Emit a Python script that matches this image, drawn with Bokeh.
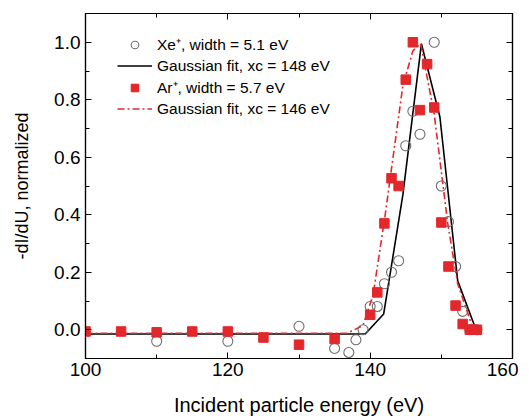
from bokeh.plotting import figure
from bokeh.models import Range1d, FixedTicker, LinearAxis, Legend, LegendItem, PrintfTickFormatter, CustomJSTickFormatter
from bokeh.embed import file_html
from bokeh.resources import INLINE

# Xe+ data (open circles)
xe_x = [110, 120, 130, 135, 137, 138, 139, 140, 141, 142, 143, 144, 145, 146, 147, 149, 150, 151, 152, 153, 154, 155]
xe_y = [-0.04, -0.04, 0.012, -0.065, -0.079, -0.035, 0.0, 0.081, 0.081, 0.16, 0.2, 0.24, 0.64, 0.76, 0.68, 1.0, 0.5, 0.376, 0.22, 0.064, 0.0, 0.0]

# Ar+ data (filled squares)
ar_x = [100, 105, 110, 115, 120, 125, 130, 135, 140, 141, 142, 143, 144, 145, 146, 147, 148, 149, 150, 151, 152, 153, 154, 154.5, 155]
ar_y = [-0.006, -0.006, -0.009, -0.006, -0.006, -0.027, -0.052, -0.032, 0.052, 0.13, 0.37, 0.527, 0.5, 0.87, 1.0, 0.764, 0.924, 0.773, 0.373, 0.22, 0.084, 0.02, 0.0, 0.0, 0.0]

# Gaussian fit, Xe+ (black solid)
fit_xe_x = [100, 139.3, 141.9, 144.6, 147.2, 149.8, 152.3, 154.8]
fit_xe_y = [-0.015, -0.015, 0.055, 0.47, 0.995, 0.74, 0.17, 0.005]

# Gaussian fit, Ar+ (red dash-dot)
fit_ar_x = [100, 136.8, 139.0, 140.4, 142.0, 144.6, 146.0, 147.1, 149.0, 150.9, 152.3, 154.5]
fit_ar_y = [-0.012, -0.012, 0.015, 0.12, 0.38, 0.85, 0.97, 0.995, 0.75, 0.37, 0.16, 0.0]

x_major = [100, 120, 140, 160]
x_minor = [110, 130, 150]
y_major = [0.0, 0.2, 0.4, 0.6, 0.8, 1.0]
y_minor = [-0.1, 0.1, 0.3, 0.5, 0.7, 0.9, 1.1]

FONT = "Liberation Sans"
RED = "#e3272b"

p = figure(frame_width=427, frame_height=345, output_backend="svg", toolbar_location=None,
           x_range=Range1d(100, 160), y_range=Range1d(-0.1, 1.1),
           min_border_left=85, min_border_right=6, min_border_top=13, min_border_bottom=58,
           x_axis_label="Incident particle energy (eV)", y_axis_label="-dI/dU, normalized")
p.background_fill_color = "white"
p.border_fill_color = "white"
p.outline_line_color = "black"
p.outline_line_width = 1.2
p.grid.visible = False

for ax in (p.xaxis[0], p.yaxis[0]):
    ax.major_tick_in = 6
    ax.major_tick_out = 0
    ax.minor_tick_in = 4
    ax.minor_tick_out = 0
    ax.axis_line_color = "black"
    ax.axis_line_width = 1.2
    ax.major_tick_line_color = "black"
    ax.minor_tick_line_color = "black"
    ax.major_label_text_font = FONT
    ax.major_label_text_font_size = "19px"
    ax.major_label_text_color = "black"
    ax.axis_label_text_font = FONT
    ax.axis_label_text_font_style = "normal"
    ax.axis_label_text_color = "black"

p.xaxis[0].axis_label_text_font_size = "20px"
p.yaxis[0].axis_label_text_font_size = "18px"
p.xaxis[0].ticker = FixedTicker(ticks=x_major, minor_ticks=x_minor)
p.yaxis[0].ticker = FixedTicker(ticks=y_major, minor_ticks=y_minor)
p.yaxis[0].formatter = PrintfTickFormatter(format="%.1f")
p.xaxis[0].major_label_standoff = 4
p.yaxis[0].major_label_standoff = 5
p.xaxis[0].axis_label_standoff = 15
p.yaxis[0].axis_label_standoff = 19

# mirrored axes without labels
blank = CustomJSTickFormatter(code="return ''")
top = LinearAxis(ticker=FixedTicker(ticks=x_major, minor_ticks=x_minor), formatter=blank)
right = LinearAxis(ticker=FixedTicker(ticks=y_major, minor_ticks=y_minor), formatter=blank)
for ax in (top, right):
    ax.major_tick_in = 6
    ax.major_tick_out = 0
    ax.minor_tick_in = 4
    ax.minor_tick_out = 0
    ax.axis_line_width = 1.2
    ax.major_label_standoff = 0
p.add_layout(top, "above")
p.add_layout(right, "right")

r_xe_fit = p.line(fit_xe_x, fit_xe_y, line_color="black", line_width=1.6)
r_ar_fit = p.line(fit_ar_x, fit_ar_y, line_color=RED, line_width=1.6, line_dash="7 3 2 3")
r_xe = p.scatter(xe_x, xe_y, marker="circle", size=10, fill_color=None, line_color="#6e6e6e", line_width=1.1)
r_ar = p.scatter(ar_x, ar_y, marker="square", size=9.5, fill_color=RED, line_color=RED)

legend = Legend(items=[
    LegendItem(label="Xe\u207a, width = 5.1 eV", renderers=[r_xe]),
    LegendItem(label="Gaussian fit, xc = 148 eV", renderers=[r_xe_fit]),
    LegendItem(label="Ar\u207a, width = 5.7 eV", renderers=[r_ar]),
    LegendItem(label="Gaussian fit, xc = 146 eV", renderers=[r_ar_fit]),
], location=(32, 240))
legend.background_fill_alpha = 0
legend.border_line_color = None
legend.padding = 0
legend.margin = 0
legend.spacing = 1
legend.glyph_width = 35
legend.glyph_height = 19
legend.label_height = 19
legend.label_standoff = 5
legend.label_text_font = FONT
legend.label_text_font_size = "15.5px"
legend.label_text_color = "black"
p.add_layout(legend, "center")

open("out.html", "w").write(file_html(p, INLINE))
